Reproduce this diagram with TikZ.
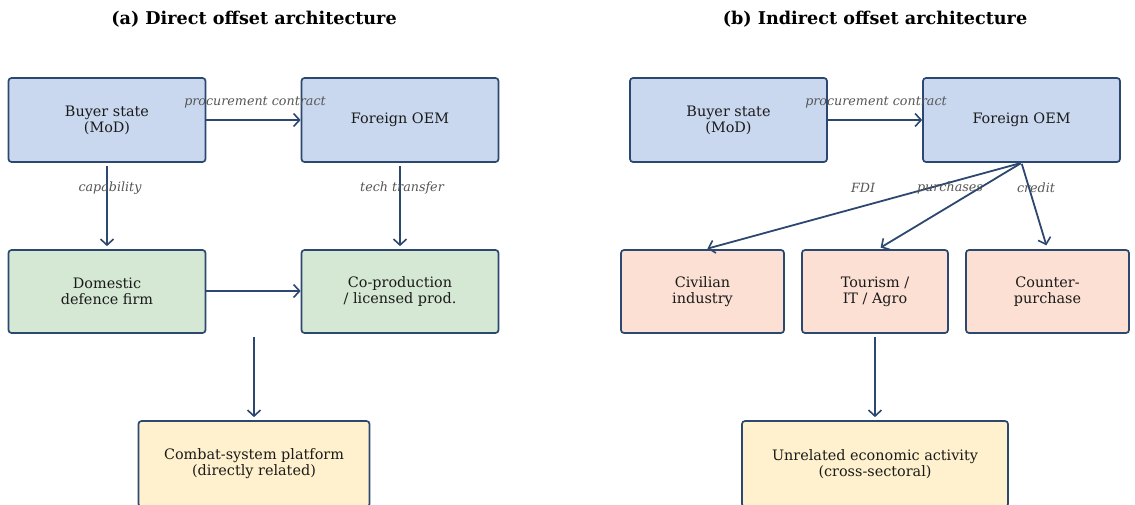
\documentclass[tikz,border=0pt]{standalone}
\usepackage{fontspec}
\setmainfont{DejaVu Serif}
\usetikzlibrary{arrows.meta}
\definecolor{edgeblue}{HTML}{2C4770}
\definecolor{fillblue}{HTML}{C9D8EF}
\definecolor{fillgreen}{HTML}{D5E8D4}
\definecolor{fillsalmon}{HTML}{FCE0D4}
\definecolor{fillyellow}{HTML}{FFF1CD}
\definecolor{labelgrey}{HTML}{555555}
\definecolor{txt}{HTML}{1A1A1A}
\tikzset{
  box/.style={draw=edgeblue, line width=1.7pt, rounded corners=3pt, inner sep=0pt,
    align=center, text=txt, font=\fontsize{14.4}{15.8}\selectfont},
  bluebox/.style={box, fill=fillblue},
  greenbox/.style={box, fill=fillgreen},
  salmonbox/.style={box, fill=fillsalmon},
  yellowbox/.style={box, fill=fillyellow},
  conn/.style={draw=edgeblue, line width=1.8pt, -{Straight Barb[length=6pt,width=13pt,line width=1.6pt]}},
  elabel/.style={text=labelgrey, font=\fontsize{12.7}{14}\selectfont\itshape, inner sep=0pt},
  title/.style={text=black, font=\fontsize{17.6}{19}\selectfont\bfseries, inner sep=0pt}
}
\begin{document}
\begin{tikzpicture}[x=1pt, y=-1pt]
\useasboundingbox (0,0) rectangle (1135,504);
\clip (0,0) rectangle (1135,504);
% titles
\node[title] (ta) at (254,19) {(a) Direct offset architecture};
\node[title] (tb) at (875,19) {(b) Indirect offset architecture};
% panel a
\node[bluebox, minimum width=197pt, minimum height=84pt] (abuyer) at (107,120) {Buyer state\\(MoD)};
\node[bluebox, minimum width=197pt, minimum height=84pt] (aoem) at (400,120) {Foreign OEM};
\node[greenbox, minimum width=197pt, minimum height=83pt] (adom) at (107,291.5) {Domestic\\defence firm};
\node[greenbox, minimum width=197pt, minimum height=83pt] (acop) at (400,291.5) {Co-production\\/ licensed prod.};
\node[yellowbox, minimum width=231pt, minimum height=86pt] (aplat) at (254,464) {Combat-system platform\\(directly related)};
\coordinate (astart) at (254,337);
\draw[conn] (abuyer.east) -- (aoem.west);
\draw[conn, shorten <=3pt, shorten >=3pt] (abuyer.south) -- (adom.north);
\draw[conn, shorten <=3pt, shorten >=3pt] (aoem.south) -- (acop.north);
\draw[conn] ([yshift=0.5pt]adom.east) -- ([yshift=0.5pt]acop.west);
\draw[conn, shorten >=3pt] (astart) -- (aplat.north -| astart);
\node[elabel] (l1) at (255,102) {procurement contract};
\node[elabel] (l2) at (110,188) {capability};
\node[elabel] (l3) at (402,188) {tech transfer};
% panel b
\node[bluebox, minimum width=197pt, minimum height=84pt] (bbuyer) at (728.5,120) {Buyer state\\(MoD)};
\node[bluebox, minimum width=197pt, minimum height=84pt] (boem) at (1021.5,120) {Foreign OEM};
\node[salmonbox, minimum width=163pt, minimum height=83pt] (bciv) at (702.5,291.5) {Civilian\\industry};
\node[salmonbox, minimum width=146pt, minimum height=83pt] (btour) at (875,291.5) {Tourism /\\IT / Agro};
\node[salmonbox, minimum width=163pt, minimum height=83pt] (bcount) at (1047.5,291.5) {Counter-\\purchase};
\node[yellowbox, minimum width=266pt, minimum height=86pt] (bunrel) at (875,464) {Unrelated economic activity\\(cross-sectoral)};
\coordinate (bstart) at (875,337);
\draw[conn] (bbuyer.east) -- (boem.west);
\draw[conn, shorten <=1pt, shorten >=2pt] (boem.south) -- ([xshift=3pt]bciv.north);
\draw[conn, shorten <=1pt, shorten >=3pt] (boem.south) -- ([xshift=3pt]btour.north);
\draw[conn, shorten <=1pt, shorten >=4pt] (boem.south) -- (bcount.north);
\draw[conn, shorten >=3pt] (bstart) -- (bunrel.north -| bstart);
\node[elabel] (l4) at (876,102) {procurement contract};
\node[elabel] (l5) at (863,188) {FDI};
\node[elabel] (l6) at (950,188) {purchases};
\node[elabel] (l7) at (1036,188) {credit};
\end{tikzpicture}
\end{document}
